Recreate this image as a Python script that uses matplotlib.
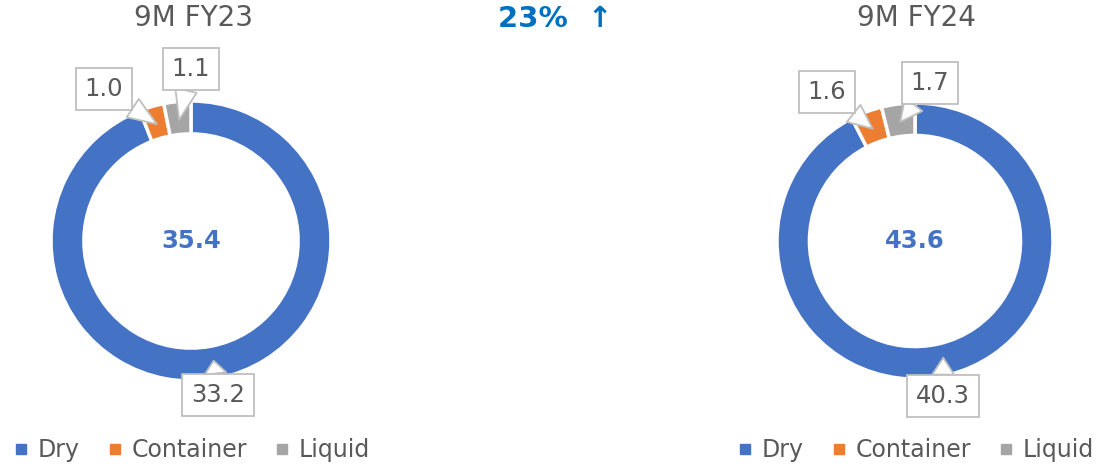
"""Two donut charts comparing cargo mix for 9M FY23 and 9M FY24"""

import numpy as np
import matplotlib.pyplot as plt
from matplotlib.lines import Line2D

W, H = 1098, 466

categories = ["Dry", "Container", "Liquid"]
colors = ["#4472C4", "#ED7D31", "#A5A5A5"]

periods = ["9M FY23", "9M FY24"]
totals = [35.4, 43.6]
values = [
	[33.2, 1.0, 1.1],
	[40.3, 1.6, 1.7],
]
growth = "23%  \u2191"

GREY = "#595959"
BLUE = "#4472C4"


def draw_donut(ax, vals, total, center, radius, label_pos):
	"""Draw one ring with its callout labels and total in the middle"""

	wedges, _ = ax.pie(vals, colors=colors, startangle=90, counterclock=False,
		center=center, radius=radius,
		wedgeprops=dict(width=radius * 0.235, edgecolor="white", linewidth=2.5))

	ax.text(center[0], center[1], "%.1f" % total, ha="center", va="center",
		fontsize=17.5, fontweight="bold", color=BLUE)

	# callout boxes pointing to the middle of each slice
	for w, v, pos in zip(wedges, vals, label_pos):
		ang = np.deg2rad((w.theta1 + w.theta2) / 2)
		tip = (center[0] + radius * 0.87 * np.cos(ang),
			center[1] + radius * 0.87 * np.sin(ang))
		ax.annotate("%.1f" % v, xy=tip, xytext=(pos[0], H - pos[1]),
			ha="center", va="center", fontsize=17.5, color=GREY,
			bbox=dict(boxstyle="square,pad=0.36", fc="white", ec="#BFBFBF", lw=1.3),
			arrowprops=dict(arrowstyle="wedge,tail_width=0.9", fc="white",
				ec="#BFBFBF", lw=1.3, shrinkA=0, shrinkB=0))
	return wedges


if __name__ == "__main__":

	fig = plt.figure(figsize=(W / 100, H / 100), dpi=100)
	ax = fig.add_axes([0, 0, 1, 1])

	centers = [(191, H - 241), (915, H - 241)]
	radii = [140, 138]
	label_pos = [
		[(218, 395), (104, 89), (191, 69)],
		[(943, 396), (827, 92), (930, 83)],
	]

	for vals, total, c, r, lp in zip(values, totals, centers, radii, label_pos):
		draw_donut(ax, vals, total, c, r, lp)

	ax.set_xlim(0, W)
	ax.set_ylim(0, H)
	ax.set_aspect("equal")
	ax.axis("off")

	# titles
	ax.text(193, H - 18, periods[0], ha="center", va="center", fontsize=20, color=GREY)
	ax.text(916, H - 18, periods[1], ha="center", va="center", fontsize=20, color=GREY)
	ax.text(555, H - 19, growth, ha="center", va="center", fontsize=21,
		fontweight="bold", color="#0070C0")

	# legends under each donut
	handles = [Line2D([], [], marker="s", ls="", color=c, markersize=7) for c in colors]
	legs = []
	for x0 in [-5, 719]:
		leg = ax.legend(handles, categories, ncol=3, loc="center left",
			bbox_to_anchor=(x0, H - 450), bbox_transform=ax.transData,
			frameon=False, fontsize=17, handlelength=0.4, handletextpad=0.5,
			columnspacing=1.3, labelcolor=GREY)
		legs.append(leg)
	ax.add_artist(legs[0])

	plt.savefig("out.png", dpi=100)
